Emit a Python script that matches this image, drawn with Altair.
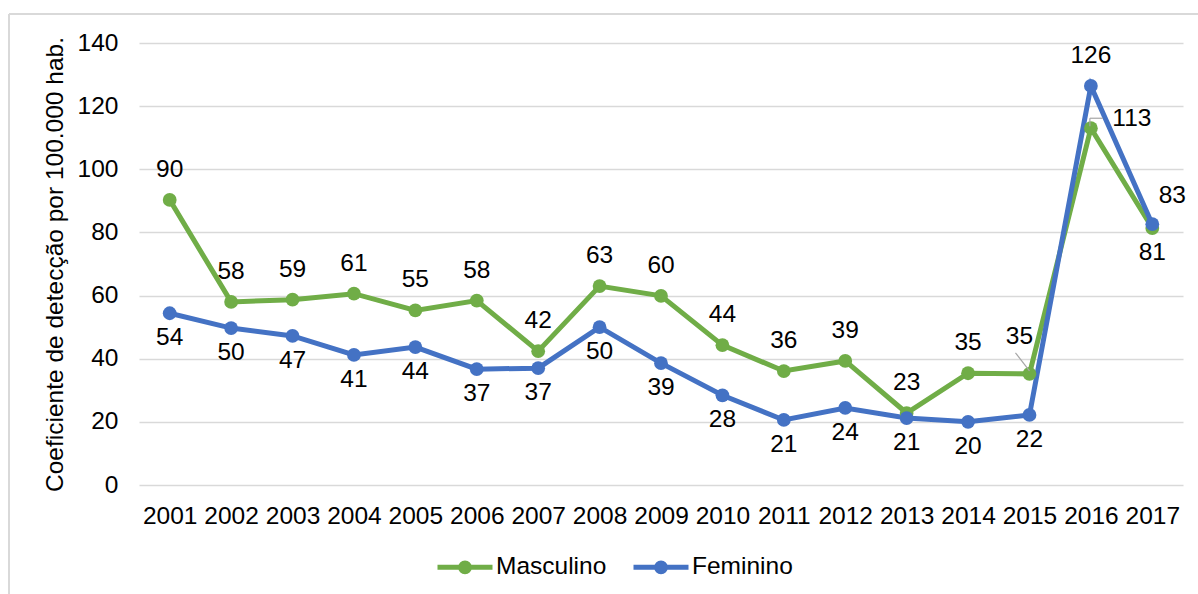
import altair as alt
import pandas as pd

years = [str(y) for y in range(2001, 2018)]
masculino = [90.3, 58.0, 58.7, 60.6, 55.3, 58.4, 42.4, 63.0, 59.9, 44.3, 36.1, 39.3, 22.8, 35.4, 35.2, 113.0, 81.4]
feminino = [54.4, 49.7, 47.2, 41.2, 43.7, 36.7, 37.0, 50.0, 38.6, 28.4, 20.6, 24.4, 21.2, 20.0, 22.2, 126.4, 82.6]
series_names = ["Masculino", "Feminino"]
colors = ["#70AD47", "#4472C4"]
y_ticks = [0, 20, 40, 60, 80, 100, 120, 140]

# label placement per point
masc_pos = ["above"] * 14 + ["upleft", "r113", "below"]
fem_pos = ["below"] * 15 + ["above", "right"]

rows = []
for s, vals, poss in [("Masculino", masculino, masc_pos), ("Feminino", feminino, fem_pos)]:
    for y, v, p in zip(years, vals, poss):
        rows.append({"year": y, "series": s, "value": v, "pos": p})
df = pd.DataFrame(rows)

FONT = "Liberation Sans"
FS = 24.5

x_enc = alt.X("year:N", scale=alt.Scale(type="point", padding=0.5),
              axis=alt.Axis(title=None, domain=False, ticks=False, labelFont=FONT,
                            labelFontSize=FS, labelColor="#000000", labelPadding=19,
                            labelAngle=0, grid=False))
y_enc = alt.Y("value:Q", scale=alt.Scale(domain=[0, 140], nice=False, zero=True),
              axis=alt.Axis(title="Coeficiente de detecção por 100.000 hab.", values=y_ticks,
                            domain=False, ticks=False, labelFont=FONT, labelFontSize=FS,
                            labelColor="#000000", labelPadding=21, gridColor="#d9d9d9",
                            gridWidth=1.5, titleFont=FONT, titleFontSize=FS,
                            titleFontWeight="normal", titleColor="#000000", titlePadding=10))

sym_path = ("M-1,0H1"
            "M0.16,0A0.16,0.16,0,1,1,-0.16,0A0.16,0.16,0,1,1,0.16,0"
            "M0.06,0A0.06,0.06,0,1,1,-0.06,0A0.06,0.06,0,1,1,0.06,0")
color_enc = alt.Color("series:N", sort=series_names,
                      scale=alt.Scale(domain=series_names, range=colors),
                      legend=alt.Legend(title=None, orient="none", direction="horizontal",
                                        legendX=296, legendY=494,
                                        symbolType=sym_path, symbolSize=3025,
                                        symbolStrokeWidth=5, symbolOpacity=1,
                                        labelFont=FONT, labelFontSize=FS, labelColor="#000000",
                                        labelOffset=1, columnPadding=16))

base = alt.Chart(df)

lines = base.mark_line(strokeWidth=5, point=alt.OverlayMarkDef(filled=True, size=190, opacity=1)).encode(
    x=x_enc, y=y_enc, color=color_enc, detail="series:N"
)

offsets = {
    "above": (0, -30),
    "below": (0, 25),
    "upleft": (-10, -37),
    "r113": (41, -9),
    "right": (20, -28),
}
text_layers = []
for p, (dx, dy) in offsets.items():
    text_layers.append(
        base.transform_filter(alt.datum.pos == p).mark_text(
            font=FONT, fontSize=FS, color="#000000", dx=dx, dy=dy, baseline="middle", align="center"
        ).encode(x="year:N", y="value:Q", text=alt.Text("value:Q", format=".0f"))
    )

leader_a = base.transform_filter(alt.datum.pos == "upleft").mark_rule(
    color="#a6a6a6", strokeWidth=1.2, xOffset=-14, yOffset=-21, x2Offset=0, y2Offset=-3
).encode(x="year:N", y="value:Q", x2="year:N", y2="value:Q")
leader_b1 = base.transform_filter(alt.datum.pos == "r113").mark_rule(
    color="#a6a6a6", strokeWidth=1.2, xOffset=-1, yOffset=-2, x2Offset=-1, y2Offset=-10
).encode(x="year:N", y="value:Q", x2="year:N", y2="value:Q")
leader_b2 = base.transform_filter(alt.datum.pos == "r113").mark_rule(
    color="#a6a6a6", strokeWidth=1.2, xOffset=-1, yOffset=-10, x2Offset=12, y2Offset=-10
).encode(x="year:N", y="value:Q", x2="year:N", y2="value:Q")

border_left = alt.Chart(df).mark_rule(color="#d9d9d9", strokeWidth=1.5).encode(
    x=alt.value(-130), y=alt.value(-29), y2=alt.value(600))
border_top = alt.Chart(df).mark_rule(color="#d9d9d9", strokeWidth=1.5).encode(
    x=alt.value(-130), x2=alt.value(1100), y=alt.value(-29))

chart = alt.layer(border_left, border_top, lines, leader_a, leader_b1, leader_b2, *text_layers).properties(
    width=1044, height=442,
    autosize=alt.AutoSizeParams(type="none"),
    padding={"left": 139, "top": 43, "right": 15, "bottom": 109},
    background="#ffffff",
).configure_view(stroke=None)

chart.save("out.html", embed_options={"renderer": "svg", "actions": False})
